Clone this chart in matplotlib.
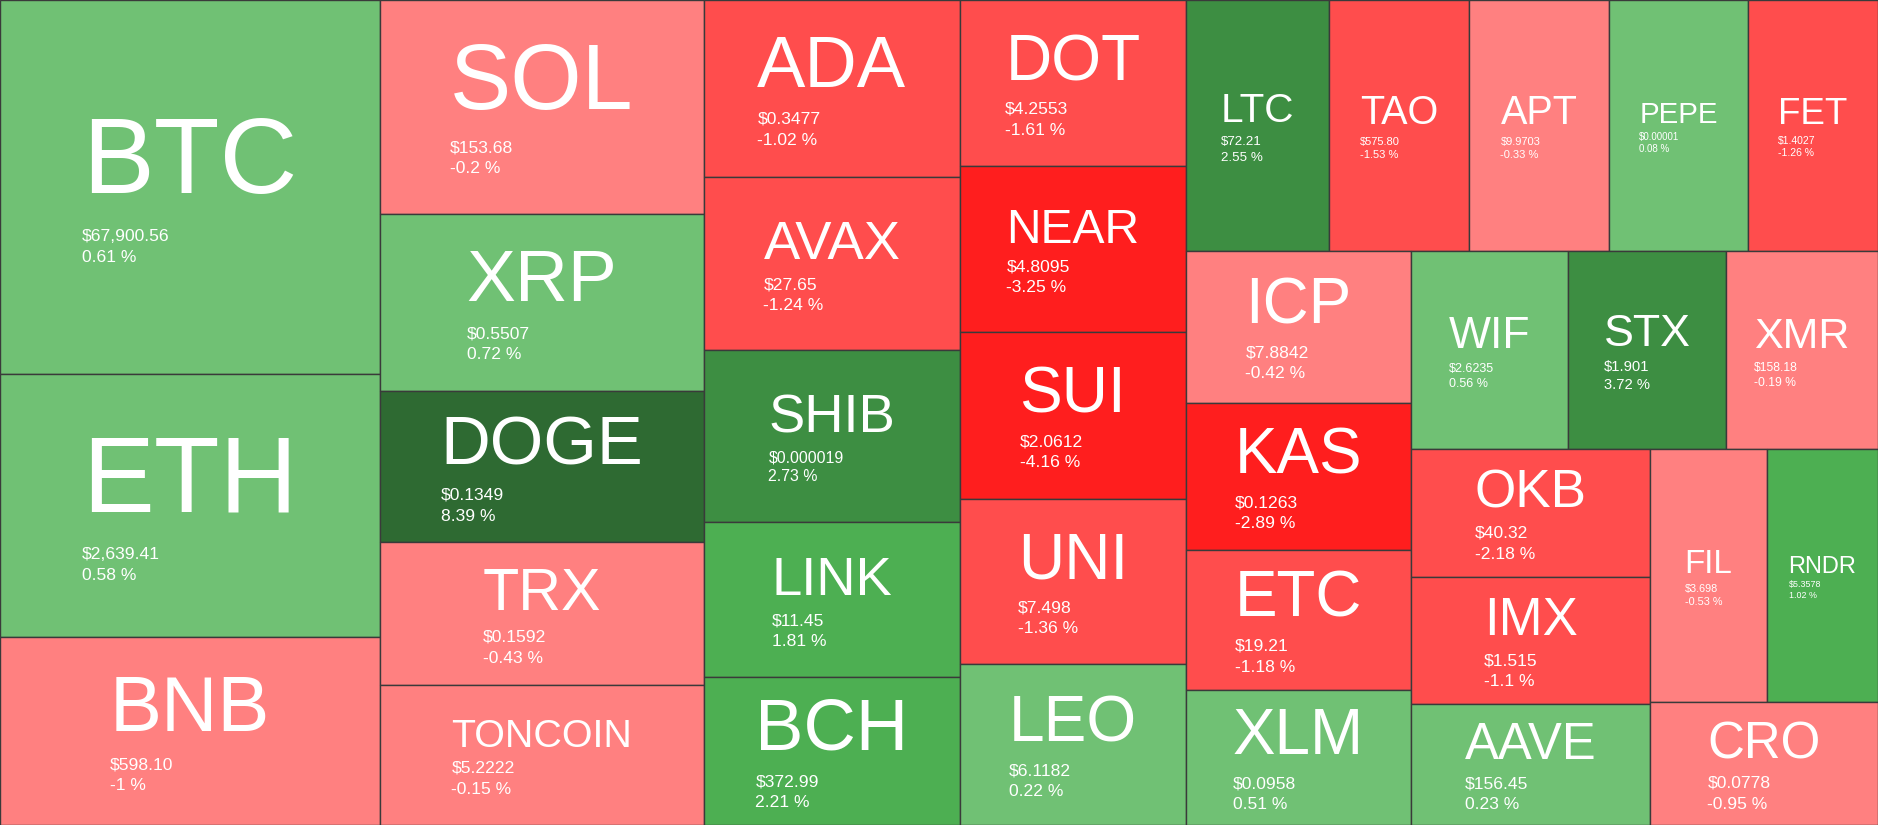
import math
import matplotlib
matplotlib.use("Agg")
import matplotlib.pyplot as plt
from matplotlib.patches import Rectangle

# ---------------- data ----------------
symbols = ["BTC", "ETH", "BNB",
           "SOL", "XRP", "DOGE", "TRX", "TONCOIN",
           "ADA", "AVAX", "SHIB", "LINK", "BCH",
           "DOT", "NEAR", "SUI", "UNI", "LEO",
           "LTC", "TAO", "APT", "PEPE", "FET",
           "ICP", "KAS", "ETC", "XLM",
           "WIF", "STX", "XMR",
           "OKB", "IMX", "AAVE",
           "FIL", "RNDR", "CRO"]

weights = [1421, 999, 714,
           693, 573, 489, 463, 454,
           453, 443, 440, 397, 379,
           375, 375, 377, 373, 364,
           359, 351, 351, 349, 326,
           342, 331, 315, 304,
           311, 313, 301,
           306, 304, 289,
           296, 281, 280]

prices = ["$67,900.56", "$2,639.41", "$598.10",
          "$153.68", "$0.5507", "$0.1349", "$0.1592", "$5.2222",
          "$0.3477", "$27.65", "$0.000019", "$11.45", "$372.99",
          "$4.2553", "$4.8095", "$2.0612", "$7.498", "$6.1182",
          "$72.21", "$575.80", "$9.9703", "$0.00001", "$1.4027",
          "$7.8842", "$0.1263", "$19.21", "$0.0958",
          "$2.6235", "$1.901", "$158.18",
          "$40.32", "$1.515", "$156.45",
          "$3.698", "$5.3578", "$0.0778"]

changes = [0.61, 0.58, -1,
           -0.2, 0.72, 8.39, -0.43, -0.15,
           -1.02, -1.24, 2.73, 1.81, 2.21,
           -1.61, -3.25, -4.16, -1.36, 0.22,
           2.55, -1.53, -0.33, 0.08, -1.26,
           -0.42, -2.89, -1.18, 0.51,
           0.56, 3.72, -0.19,
           -2.18, -1.1, 0.23,
           -0.53, 1.02, -0.95]

# ---------------- layout (d3 squarify, golden ratio) ----------------
W, H = 1878, 825
PHI = (1 + math.sqrt(5)) / 2


def squarify(values, x0, y0, x1, y1, ratio=PHI):
    n = len(values)
    rects = [None] * n
    value = float(sum(values))
    i0 = i1 = 0
    while i0 < n:
        dx, dy = x1 - x0, y1 - y0
        sum_v = values[i1]
        i1 += 1
        min_v = max_v = sum_v
        alpha = max(dy / dx, dx / dy) / (value * ratio)
        beta = sum_v * sum_v * alpha
        min_ratio = max(max_v / beta, beta / min_v)
        while i1 < n:
            nv = values[i1]
            sum_v += nv
            min_v = min(min_v, nv)
            max_v = max(max_v, nv)
            beta = sum_v * sum_v * alpha
            new_ratio = max(max_v / beta, beta / min_v)
            if new_ratio > min_ratio:
                sum_v -= nv
                break
            min_ratio = new_ratio
            i1 += 1
        row = range(i0, i1)
        if dx < dy:  # dice: row across the top
            ny = y0 + dy * sum_v / value
            k = (x1 - x0) / sum_v
            x = x0
            for i in row:
                rects[i] = (x, y0, values[i] * k, ny - y0)
                x += values[i] * k
            y0 = ny
        else:  # slice: column on the left
            nx = x0 + dx * sum_v / value
            k = (y1 - y0) / sum_v
            y = y0
            for i in row:
                rects[i] = (x0, y, nx - x0, values[i] * k)
                y += values[i] * k
            x0 = nx
        value -= sum_v
        i0 = i1
    return rects


def tile_color(c):
    a = abs(c)
    if c >= 0:
        pal = ["#70C174", "#4DAF52", "#3D8E42", "#2E6A32"]
    else:
        pal = ["#FF8080", "#FF4D4D", "#FF1E1E", "#CC0000"]
    if a <= 1:
        return pal[0]
    if a < 2.5:
        return pal[1]
    if a < 5:
        return pal[2]
    return pal[3]


rects = squarify(weights, 0, 0, W, H)

fig = plt.figure(figsize=(W / 100, H / 100), dpi=100)
ax = fig.add_axes([0, 0, 1, 1])
ax.set_xlim(0, W)
ax.set_ylim(H, 0)
ax.axis("off")
renderer = fig.canvas.get_renderer()

FONT = "Liberation Sans"
PX2PT = 72 / 100

for sym, (x, y, w, h), pr, ch in zip(symbols, rects, prices, changes):
    ax.add_patch(Rectangle((x, y), w, h, facecolor=tile_color(ch),
                           edgecolor="#3a3a3a", linewidth=1.0))
    fs = 0.85 * w / len(sym)
    if fs > 0.5 * h:
        fs = 0.415 * h
    pfs = min(17.5, 0.56 * w / len(pr))
    block = 0.716 * fs + 0.33 * fs + 0.716 * pfs + 1.2 * pfs
    top = y + h / 2 - block / 2 + 1.5
    base_sym = top + 0.716 * fs
    base_pr = base_sym + 0.33 * fs + 0.716 * pfs
    base_pc = base_pr + 1.2 * pfs
    cx = x + w / 2
    t = ax.text(cx, base_sym, sym, ha="center", va="baseline", color="white",
                fontsize=fs * PX2PT, family=FONT)
    sw = t.get_window_extent(renderer).width
    lx = cx - sw / 2
    ax.text(lx, base_pr, pr, ha="left", va="baseline", color="white",
            fontsize=pfs * PX2PT, family=FONT)
    ax.text(lx, base_pc, f"{ch:g} %", ha="left", va="baseline", color="white",
            fontsize=pfs * PX2PT, family=FONT)

fig.savefig("out.png", dpi=100)
